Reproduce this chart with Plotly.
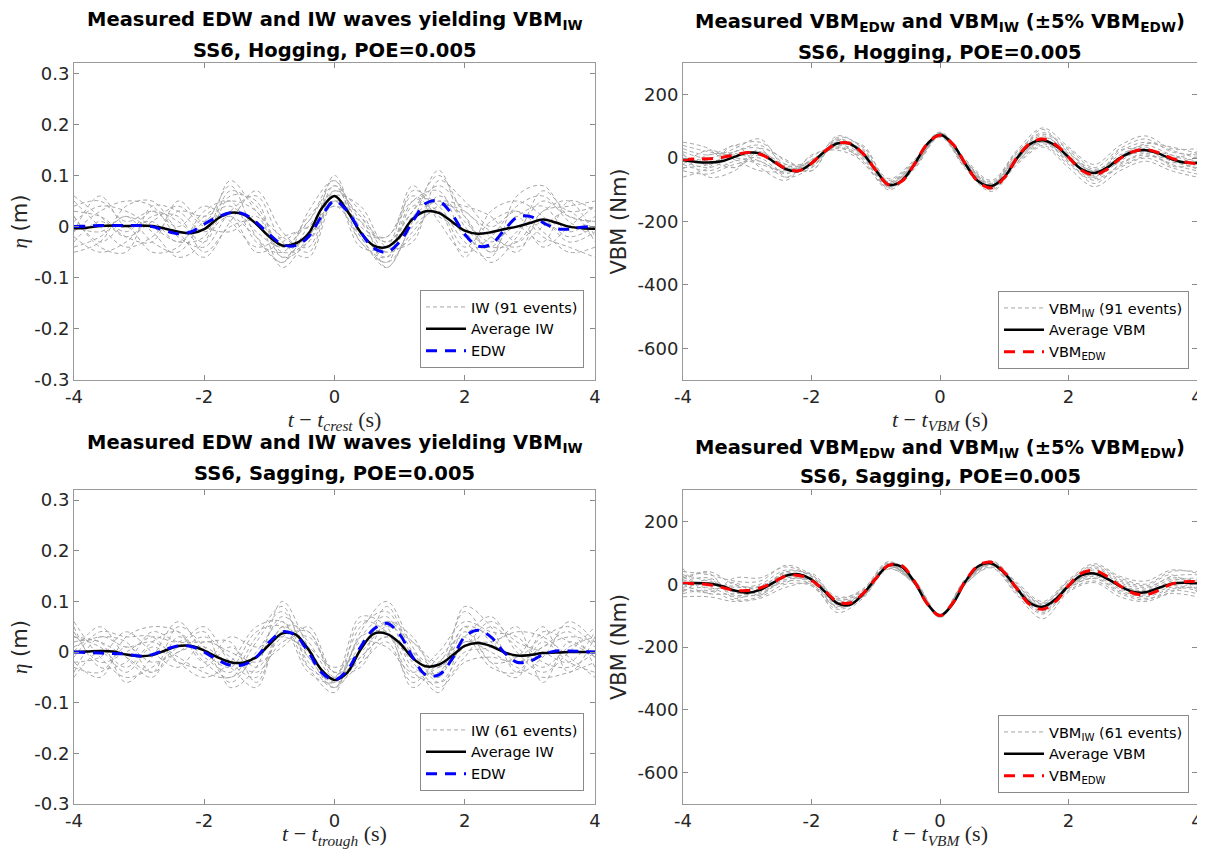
import plotly.graph_objects as go

# time axes (s)
t = [-4.0, -3.8, -3.6, -3.4, -3.2, -3.0, -2.8, -2.6, -2.4, -2.2, -2.0, -1.8, -1.6, -1.4, -1.2, -1.0, -0.8, -0.6, -0.4, -0.2,
     0.0, 0.2, 0.4, 0.6, 0.8, 1.0, 1.2, 1.4, 1.6, 1.8, 2.0, 2.2, 2.4, 2.6, 2.8, 3.0, 3.2, 3.4, 3.6, 3.8, 4.0]
t_ev = [-4.0, -3.6, -3.2, -2.8, -2.4, -2.0, -1.6, -1.2, -0.8, -0.4, 0.0, 0.4, 0.8, 1.2, 1.6, 2.0, 2.4, 2.8, 3.2, 3.6, 4.0]

# hogging, wave elevation (m)
hog_avg_iw = [-0.003, -0.002, 0.001, 0.002, 0.001, 0.002, 0.001, -0.004, -0.010, -0.013, -0.005, 0.015, 0.027, 0.024, 0.005,
              -0.020, -0.037, -0.033, -0.014, 0.035, 0.060, 0.030, -0.011, -0.037, -0.040, -0.020, 0.015, 0.030, 0.027, 0.010,
              -0.008, -0.014, -0.011, -0.005, 0.000, 0.007, 0.014, 0.008, 0.000, -0.003, -0.004]
hog_edw = [0.000, 0.001, 0.002, 0.002, 0.002, 0.002, 0.000, -0.008, -0.014, -0.010, 0.005, 0.018, 0.027, 0.025, 0.008,
           -0.015, -0.035, -0.037, -0.020, 0.020, 0.050, 0.030, -0.010, -0.042, -0.050, -0.030, 0.010, 0.045, 0.050, 0.025,
           -0.015, -0.038, -0.035, -0.008, 0.018, 0.020, 0.008, -0.004, -0.005, -0.001, 0.000]
hog_iw_events = [
    [0.03, 0.02, -0.01, 0.03, 0.01, -0.03, 0.06, 0.05, -0.06, -0.03, 0.08, 0.01, -0.05, 0.05, 0.07, -0.02, -0.04, 0.02, 0.04, -0.01, 0.02],
    [-0.04, -0.02, 0.02, -0.03, -0.05, 0.01, 0.02, -0.02, -0.07, 0.0, 0.05, -0.03, -0.07, -0.01, 0.04, 0.03, -0.02, -0.04, 0.0, 0.03, -0.03],
    [0.01, 0.04, 0.03, 0.0, -0.03, -0.02, 0.09, 0.03, -0.02, -0.04, 0.07, 0.02, -0.03, 0.03, 0.10, 0.02, -0.05, -0.01, 0.05, 0.02, 0.01],
    [-0.02, -0.05, -0.03, 0.02, 0.02, -0.05, 0.0, 0.01, -0.08, -0.02, 0.04, -0.02, -0.08, 0.0, 0.03, -0.04, 0.01, 0.03, -0.02, -0.04, -0.06],
    [0.05, 0.0, -0.04, -0.02, 0.03, 0.02, 0.04, -0.01, -0.04, 0.01, 0.09, 0.0, -0.02, 0.06, 0.02, -0.01, -0.07, -0.02, 0.07, 0.03, 0.04],
    [-0.01, 0.03, 0.05, 0.04, -0.02, -0.04, 0.03, 0.06, -0.03, -0.06, 0.05, -0.01, -0.06, 0.02, 0.05, 0.04, 0.02, -0.03, 0.01, -0.02, 0.0],
    [0.02, -0.03, 0.0, -0.05, -0.04, 0.03, 0.05, -0.03, -0.05, 0.02, 0.06, -0.04, -0.04, 0.08, 0.01, -0.05, -0.02, 0.04, 0.06, 0.01, -0.02],
    [-0.03, 0.01, -0.02, 0.01, 0.04, 0.0, -0.01, 0.02, -0.06, -0.01, 0.07, 0.03, -0.05, -0.02, 0.06, 0.01, -0.03, 0.0, -0.03, 0.05, 0.03],
    [0.0, -0.01, 0.02, -0.01, -0.06, -0.03, 0.07, 0.04, -0.04, -0.02, 0.10, -0.02, -0.07, 0.04, 0.03, -0.06, 0.03, 0.05, 0.02, -0.03, -0.01],
    [0.04, 0.05, 0.01, 0.03, 0.0, 0.04, 0.01, -0.04, -0.02, 0.0, 0.04, 0.01, -0.03, 0.03, 0.08, 0.03, -0.01, -0.05, 0.03, 0.04, 0.05],
    [-0.05, -0.03, 0.04, 0.05, -0.01, -0.06, 0.01, 0.07, -0.01, -0.05, 0.06, 0.04, -0.04, -0.03, 0.09, 0.05, 0.0, 0.03, -0.01, -0.05, -0.04],
    [0.06, 0.02, -0.02, -0.03, 0.05, 0.01, 0.08, -0.02, -0.07, 0.03, 0.09, -0.03, -0.06, 0.07, 0.04, -0.03, -0.06, 0.06, 0.08, 0.02, 0.01],
    [-0.01, 0.06, 0.0, 0.01, -0.03, 0.02, 0.05, 0.03, -0.05, -0.03, 0.05, 0.02, -0.08, 0.01, 0.11, 0.0, -0.04, -0.03, 0.03, 0.05, -0.02],
    [0.02, -0.04, -0.05, 0.04, 0.03, -0.01, 0.02, -0.05, -0.03, 0.01, 0.08, -0.01, -0.02, 0.05, 0.05, 0.02, -0.05, 0.02, -0.04, 0.0, 0.04],
]

# sagging, wave elevation (m)
sag_avg_iw = [0.000, 0.001, 0.002, 0.001, -0.005, -0.008, -0.006, 0.003, 0.012, 0.012, 0.003, -0.010, -0.020, -0.021, -0.010,
              0.015, 0.037, 0.035, 0.005, -0.035, -0.055, -0.040, 0.005, 0.036, 0.036, 0.018, -0.012, -0.028, -0.025, -0.008,
              0.012, 0.018, 0.012, 0.000, -0.007, -0.006, -0.002, -0.001, 0.000, 0.000, 0.000]
sag_edw = [0.000, -0.001, -0.002, -0.003, -0.004, -0.008, -0.005, 0.005, 0.012, 0.011, 0.000, -0.015, -0.026, -0.025, -0.010,
           0.020, 0.040, 0.033, 0.000, -0.040, -0.055, -0.035, 0.010, 0.045, 0.057, 0.035, -0.010, -0.045, -0.045, -0.015,
           0.030, 0.043, 0.030, 0.000, -0.020, -0.018, -0.005, 0.002, 0.002, 0.001, 0.000]
sag_iw_events = [
    [0.03, 0.01, -0.03, 0.02, 0.04, -0.02, -0.05, 0.02, 0.08, -0.01, -0.06, 0.03, 0.07, -0.03, -0.04, 0.05, 0.03, -0.02, 0.01, 0.03, 0.02],
    [-0.03, -0.04, 0.01, -0.02, 0.0, 0.03, -0.01, -0.04, 0.02, 0.03, -0.04, -0.02, 0.02, -0.06, -0.01, 0.03, -0.03, -0.04, 0.02, -0.02, -0.04],
    [0.01, 0.03, 0.02, -0.04, 0.05, 0.01, -0.06, 0.0, 0.06, -0.02, -0.07, 0.04, 0.10, 0.01, -0.06, -0.01, 0.05, 0.01, -0.03, 0.01, 0.03],
    [-0.05, 0.0, -0.04, 0.01, -0.02, -0.03, 0.01, -0.03, 0.03, 0.04, -0.05, -0.01, 0.03, -0.02, -0.08, 0.02, 0.0, -0.03, -0.05, -0.04, -0.02],
    [0.04, -0.02, 0.0, 0.03, 0.02, 0.05, -0.02, -0.05, 0.05, 0.01, -0.03, 0.0, 0.05, 0.02, -0.02, 0.08, 0.02, -0.01, 0.03, 0.05, 0.01],
    [0.0, 0.05, -0.01, -0.05, 0.03, -0.01, -0.04, 0.03, 0.09, -0.03, -0.08, 0.06, 0.04, -0.05, -0.03, 0.01, 0.06, 0.02, 0.0, -0.02, 0.04],
    [-0.02, -0.01, 0.04, 0.0, -0.03, 0.02, 0.0, -0.02, 0.01, 0.05, -0.04, -0.03, 0.06, 0.03, -0.05, 0.04, -0.02, -0.05, 0.04, 0.02, -0.01],
    [0.02, 0.02, -0.06, -0.01, 0.06, 0.0, -0.03, 0.04, 0.05, -0.04, -0.06, 0.02, 0.01, -0.04, 0.0, 0.06, 0.04, 0.03, -0.02, -0.03, 0.0],
    [-0.04, 0.03, 0.01, 0.02, -0.01, -0.04, -0.05, -0.01, 0.07, 0.02, -0.05, 0.05, 0.08, -0.01, -0.07, -0.02, -0.01, -0.02, 0.01, 0.04, -0.03],
    [0.05, -0.03, -0.02, 0.04, 0.02, 0.02, 0.02, -0.06, 0.04, -0.01, -0.07, -0.01, 0.03, 0.0, -0.03, 0.03, 0.07, 0.0, -0.04, 0.0, 0.05],
    [-0.01, 0.04, 0.03, 0.03, -0.02, -0.05, -0.02, 0.05, 0.06, -0.03, -0.05, 0.07, 0.05, -0.07, -0.02, 0.02, 0.02, 0.04, 0.03, -0.01, -0.05],
    [0.06, -0.01, -0.05, -0.03, 0.01, 0.04, -0.07, -0.03, 0.10, 0.01, -0.06, -0.02, 0.09, 0.0, -0.05, 0.09, 0.05, -0.04, -0.01, 0.06, 0.02],
    [-0.02, -0.05, 0.03, 0.05, 0.04, -0.02, 0.03, 0.01, 0.03, 0.0, -0.07, 0.03, 0.04, -0.04, -0.06, 0.0, 0.01, 0.05, -0.06, 0.02, -0.01],
    [0.03, 0.02, -0.01, -0.04, 0.0, 0.01, -0.03, -0.07, 0.05, 0.04, -0.04, 0.01, 0.06, 0.02, -0.03, 0.05, -0.02, -0.01, 0.05, -0.04, 0.03],
]

# hogging, VBM (Nm)
hog_avg_vbm = [-6, -12, -14, -10, 4, 17, 14, -10, -35, -41, -16, 20, 46, 45, 14, -38, -84, -72, -20, 44, 74, 44, -20, -74, -88,
               -60, 0, 44, 56, 39, 3, -35, -47, -30, 0, 20, 25, 15, -3, -14, -15]
hog_vbm_edw = [-5, -3, -2, 2, 10, 18, 12, -8, -33, -40, -16, 20, 46, 46, 15, -38, -84, -74, -20, 44, 72, 44, -20, -76, -94,
               -62, 2, 46, 60, 42, 3, -38, -53, -35, -2, 20, 27, 17, 0, -12, -18]
hog_vbm_events = [
    [30, 10, 40, 50, -10, -30, 70, 30, -70, -10, 80, -10, -75, 20, 80, 30, -30, 30, 60, 20, 10],
    [-40, -50, -20, -10, -60, -5, 30, 0, -95, -30, 70, -30, -100, -15, 40, -20, -70, -30, 0, -30, -50],
    [10, -20, 20, 40, -20, -40, 60, 20, -80, -15, 76, -15, -80, 10, 90, 10, -40, 10, 40, 10, -20],
    [-20, -40, -10, 0, -50, 5, 35, -5, -90, -25, 68, -25, -95, -10, 45, -10, -80, -20, 10, -20, -40],
    [20, 0, 30, 60, -30, -20, 55, 25, -80, -15, 78, -10, -85, 5, 65, 20, -50, 20, 50, 25, 0],
    [-10, -30, 0, -20, -40, -25, 40, 10, -90, -25, 72, -22, -92, -5, 50, -5, -60, -10, 30, -10, -30],
    [40, 20, 10, 20, -20, -10, 60, 5, -75, -20, 75, -20, -85, 15, 70, 15, -35, 0, 20, 0, 20],
    [-30, -20, 20, 30, -60, -30, 45, 20, -85, -20, 74, -15, -90, 0, 55, 5, -55, -5, 35, -25, -20],
    [0, -10, -30, 10, -25, -15, 50, 15, -80, -20, 73, -20, -88, -5, 60, -5, -60, 25, 25, 10, -10],
    [-35, 10, 15, -10, -45, -5, 35, 5, -88, -22, 71, -18, -86, 5, 50, 0, -40, -15, 15, -15, 5],
    [50, 30, -30, 30, -5, -40, 65, 35, -65, -5, 82, -5, -70, 25, 95, 35, -20, 40, 70, 30, 30],
    [-60, -30, 40, -30, -70, 10, 25, -10, -100, -35, 66, -35, -105, -20, 35, -30, -90, -40, -10, -40, -60],
    [15, -60, -40, 20, -30, -20, 45, 40, -75, -10, 79, -12, -80, 20, 75, 25, -45, 5, 45, 35, 15],
    [-20, 25, -5, -40, -40, -10, 50, -15, -92, -28, 70, -28, -90, -12, 55, -15, -65, -25, 5, -5, -35],
]

# sagging, VBM (Nm)
sag_avg_vbm = [3, 4, 2, -6, -20, -27, -18, 4, 27, 32, 15, -22, -60, -66, -32, 18, 60, 56, 8, -62, -100, -62, 10, 58, 66,
               36, -15, -60, -72, -48, -5, 28, 34, 18, -6, -24, -26, -12, 1, 5, 2]
sag_vbm_edw = [3, 2, -2, -10, -20, -20, -12, 6, 26, 28, 12, -20, -55, -60, -30, 18, 60, 60, 10, -62, -100, -60, 12, 60, 70,
               38, -15, -65, -80, -55, -5, 35, 44, 25, -5, -28, -34, -20, 0, 8, 8]
sag_vbm_events = [
    [40, 30, 10, 10, 60, 30, -40, -20, 70, 15, -95, 15, 75, 0, -60, 10, 60, 20, 0, 40, 40],
    [-30, -20, -50, -40, 0, -5, -80, -40, 50, 0, -105, 0, 55, -30, -95, -20, 10, -30, -50, -20, -30],
    [20, 40, 0, -10, 40, 30, -50, -25, 65, 10, -98, 12, 70, -5, -65, 5, 50, 10, -10, 20, 10],
    [-20, -10, -40, -30, 10, 0, -70, -40, 55, 5, -102, 5, 60, -25, -85, -15, 20, -20, -40, -15, -10],
    [30, 10, -10, 0, 45, 25, -55, -30, 62, 10, -99, 14, 68, -10, -70, 0, 45, 5, -15, 25, 30],
    [0, -30, -30, -25, 15, 10, -75, -35, 58, 5, -101, 8, 64, -20, -80, -10, 25, -15, -35, -10, -20],
    [10, 20, -20, -5, 30, 20, -60, -28, 63, 8, -97, 10, 67, -12, -75, -5, 35, 0, -25, 10, 20],
    [-10, 0, -25, -35, 20, 5, -65, -38, 57, 6, -100, 9, 65, -18, -78, -8, 30, -10, -30, 5, -5],
    [25, -15, -5, -15, 35, 15, -58, -30, 61, 9, -99, 11, 66, -14, -73, -3, 38, -5, -20, 15, 5],
    [-25, 15, -35, -20, 25, 10, -62, -33, 59, 7, -101, 10, 66, -16, -70, -6, 32, -8, -28, -5, -15],
    [50, -30, 20, 20, 55, 25, -45, -15, 72, 12, -96, 18, 72, 5, -55, 15, 65, 25, 10, 45, 35],
    [-40, -40, -55, -45, -10, 0, -90, -45, 48, 2, -106, 2, 52, -35, -110, -25, 5, -40, -55, -30, -40],
    [15, 35, -45, -15, 5, 35, -50, -20, 67, 12, -96, 14, 70, -5, -62, 10, 55, 15, -5, 30, -25],
    [-15, -25, 5, -35, 40, -5, -70, -35, 56, 3, -103, 6, 62, -22, -90, -12, 18, -25, -45, -25, 15],
]

x_ticks = [-4, -2, 0, 2, 4]
x_ticktext = ["-4", "-2", "0", "2", "4"]
eta_ticks = [-0.3, -0.2, -0.1, 0, 0.1, 0.2, 0.3]
eta_ticktext = ["-0.3", "-0.2", "-0.1", "0", "0.1", "0.2", "0.3"]
vbm_ticks = [-600, -400, -200, 0, 200]
vbm_ticktext = ["-600", "-400", "-200", "0", "200"]

SANS = "DejaVu Sans"
SERIF = "Liberation Serif"
AXC = "#262626"
GRAY_EV = "#a6a6a6"

fig = go.Figure()


def add_panel(ax, leg, events, avg, edw, ev_name, avg_name, edw_name, edw_color):
    xa = "x" if ax == 1 else "x%d" % ax
    ya = "y" if ax == 1 else "y%d" % ax
    for k, ev in enumerate(events):
        fig.add_trace(go.Scatter(x=t_ev, y=ev, mode="lines", xaxis=xa, yaxis=ya,
                                 line=dict(color=GRAY_EV, width=1, dash="4px,3px", shape="spline"),
                                 name=ev_name, legend=leg, showlegend=(k == 0)))
    fig.add_trace(go.Scatter(x=t, y=avg, mode="lines", xaxis=xa, yaxis=ya,
                             line=dict(color="black", width=2.5, shape="spline"),
                             name=avg_name, legend=leg))
    fig.add_trace(go.Scatter(x=t, y=edw, mode="lines", xaxis=xa, yaxis=ya,
                             line=dict(color=edw_color, width=3, dash="11px,8px", shape="spline"),
                             name=edw_name, legend=leg))


add_panel(1, "legend", hog_iw_events, hog_avg_iw, hog_edw, "IW (91 events)", "Average IW", "EDW", "#0000ff")
add_panel(2, "legend2", hog_vbm_events, hog_avg_vbm, hog_vbm_edw,
          "VBM<sub>IW</sub> (91 events)", "Average VBM", "VBM<sub>EDW</sub>", "#ff0000")
add_panel(3, "legend3", sag_iw_events, sag_avg_iw, sag_edw, "IW (61 events)", "Average IW", "EDW", "#0000ff")
add_panel(4, "legend4", sag_vbm_events, sag_avg_vbm, sag_vbm_edw,
          "VBM<sub>IW</sub> (61 events)", "Average VBM", "VBM<sub>EDW</sub>", "#ff0000")

# the page body adds an 8px margin, so the figure is 16px smaller and
# positions are given in window pixels shifted by that margin
OFF = 8
W, H = 1205 - 2 * OFF, 857 - 2 * OFF


def px(x):
    return (x - OFF) / W


def py(y):
    return 1 - (y - OFF) / H


xl = [px(74), px(595)]
xr = [px(683), px(1197)]
yt = [py(380), py(63)]
yb = [py(804), py(490)]


def xax(dom, anchor, title):
    return dict(domain=dom, anchor=anchor, range=[-4, 4], tickvals=x_ticks, ticktext=x_ticktext,
                ticks="inside", ticklen=5, tickcolor="#8a8a8a", mirror="ticks", showline=True,
                linecolor="#9a9a9a", linewidth=1, showgrid=False, zeroline=False, automargin=False,
                ticklabeloverflow="allow",
                tickfont=dict(family=SANS, size=18, color=AXC),
                title=dict(text=title, font=dict(family=SERIF, size=22, color=AXC), standoff=5))


def yax(dom, anchor, rng, tv, tt, title, standoff):
    return dict(domain=dom, anchor=anchor, range=rng, tickvals=tv, ticktext=tt,
                ticks="inside", ticklen=5, tickcolor="#8a8a8a", mirror="ticks", showline=True,
                linecolor="#9a9a9a", linewidth=1, showgrid=False, zeroline=False, automargin=False,
                ticklabeloverflow="allow",
                tickfont=dict(family=SANS, size=18, color=AXC),
                title=dict(text=title, font=dict(family=SANS, size=21, color=AXC), standoff=standoff))


eta_title = '<span style="font-family:Liberation Serif"><i>η</i></span> (m)'
fig.update_layout(
    xaxis=xax(xl, "y", "<i>t</i> − <i>t</i><sub><i>crest</i></sub> (s)"),
    yaxis=yax(yt, "x", [-0.3, 0.32], eta_ticks, eta_ticktext, eta_title, 13),
    xaxis2=xax(xr, "y2", "<i>t</i> − <i>t</i><sub><i>VBM</i></sub> (s)"),
    yaxis2=yax(yt, "x2", [-700, 300], vbm_ticks, vbm_ticktext, "VBM (Nm)", 5),
    xaxis3=xax(xl, "y3", "<i>t</i> − <i>t</i><sub><i>trough</i></sub> (s)"),
    yaxis3=yax(yb, "x3", [-0.3, 0.32], eta_ticks, eta_ticktext, eta_title, 13),
    xaxis4=xax(xr, "y4", "<i>t</i> − <i>t</i><sub><i>VBM</i></sub> (s)"),
    yaxis4=yax(yb, "x4", [-700, 300], vbm_ticks, vbm_ticktext, "VBM (Nm)", 5),
)

leg_style = dict(xanchor="right", yanchor="bottom", bgcolor="white", bordercolor="#8a8a8a", borderwidth=1,
                 font=dict(family=SANS, size=14.5, color="black"), tracegroupgap=0, itemwidth=40)
fig.update_layout(
    legend=dict(x=px(584), y=py(368), **leg_style),
    legend2=dict(x=px(1189), y=py(369), **leg_style),
    legend3=dict(x=px(584), y=py(791), **leg_style),
    legend4=dict(x=px(1189), y=py(793), **leg_style),
)

titles = [
    ((74 + 595) / 2, 20, "Measured EDW and IW waves yielding VBM<sub>IW</sub>", 50, "SS6, Hogging, POE=0.005"),
    ((683 + 1197) / 2, 22, "Measured VBM<sub>EDW</sub> and VBM<sub>IW</sub> (±5% VBM<sub>EDW</sub>)", 52,
     "SS6, Hogging, POE=0.005"),
    ((74 + 595) / 2, 444, "Measured EDW and IW waves yielding VBM<sub>IW</sub>", 473, "SS6, Sagging, POE=0.005"),
    ((683 + 1197) / 2, 448, "Measured VBM<sub>EDW</sub> and VBM<sub>IW</sub> (±5% VBM<sub>EDW</sub>)", 476,
     "SS6, Sagging, POE=0.005"),
]
for xc, y1, txt1, y2, txt2 in titles:
    for yy, txt in ((y1, txt1), (y2, txt2)):
        fig.add_annotation(x=px(xc), y=py(yy), xref="paper", yref="paper", xanchor="center", yanchor="middle",
                           text="<b>%s</b>" % txt, showarrow=False,
                           font=dict(family=SANS, size=19.5, color="black"))

fig.update_layout(width=W, height=H, autosize=False, margin=dict(l=0, r=0, t=0, b=0, autoexpand=False),
                  paper_bgcolor="white", plot_bgcolor="white")

fig.write_html("out.html")
